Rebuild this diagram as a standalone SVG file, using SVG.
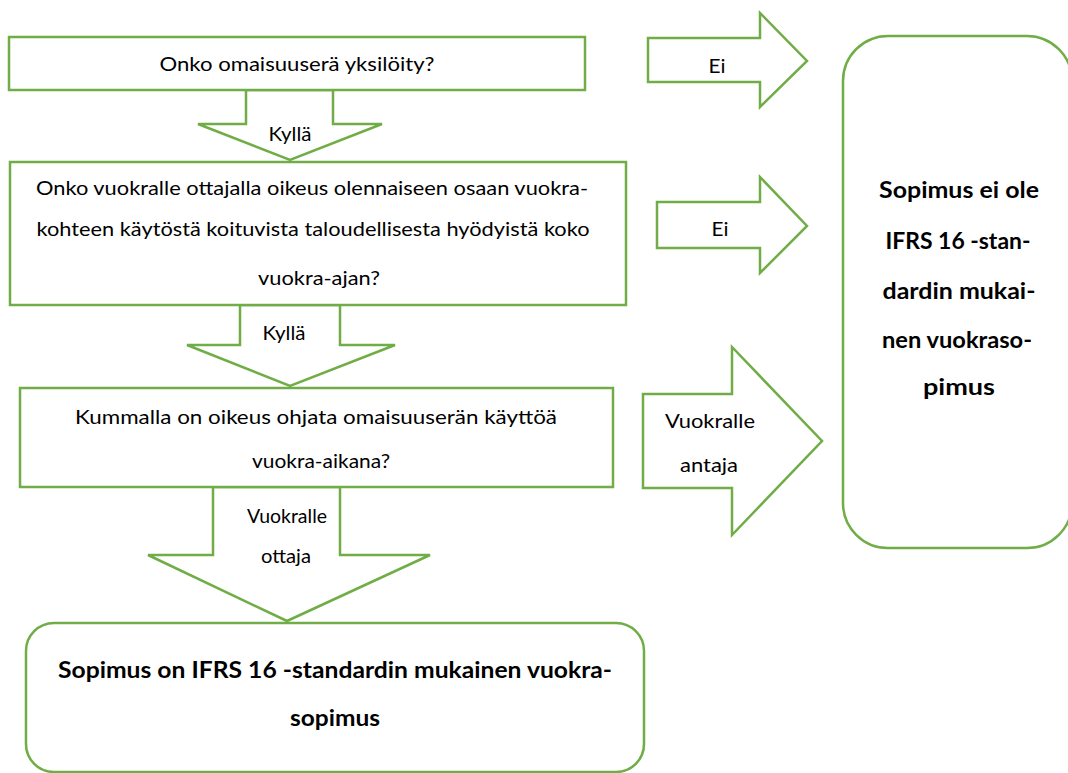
<svg xmlns="http://www.w3.org/2000/svg" width="1068" height="773" viewBox="0 0 1068 773">
<style>
.n{fill:#fff;stroke:#70AD47;stroke-width:2.5}
.a{fill:#fff;stroke:#70AD47;stroke-width:2.5;stroke-linejoin:miter}
.t{font-family:Lato,"Open Sans","Liberation Sans",sans-serif;font-size:20px;fill:#000;text-anchor:middle}
.b{font-weight:bold;font-size:23px}
</style>
<rect width="1068" height="773" fill="#fff"/>
<g id="connectors">
<g id="arrow-kylla-1"><polygon class="a" points="246,90 333,90 333,124 382,124 290,160 198,124 246,124"/><text class="t" x="290" y="141" textLength="43" lengthAdjust="spacingAndGlyphs">Kyllä</text></g>
<g id="arrow-kylla-2"><polygon class="a" points="240,305 340,305 340,345 395,345 290,386 187,345 240,345"/><text class="t" x="284" y="340" textLength="43" lengthAdjust="spacingAndGlyphs">Kyllä</text></g>
<g id="arrow-ottaja"><polygon class="a" points="213,487 340,487 340,555 430,555 287,621 148,555 213,555"/><text class="t" x="287" y="523" textLength="80" lengthAdjust="spacingAndGlyphs">Vuokralle</text><text class="t" x="286" y="563" textLength="50" lengthAdjust="spacingAndGlyphs">ottaja</text></g>
<g id="arrow-ei-1"><polygon class="a" points="648,38 760,38 760,13 807,61 760,107 760,82 648,82"/><text class="t" x="717" y="73" textLength="17" lengthAdjust="spacingAndGlyphs">Ei</text></g>
<g id="arrow-ei-2"><polygon class="a" points="657,202 760,202 760,177 807,226 760,273 760,248 657,248"/><text class="t" x="720" y="236" textLength="17" lengthAdjust="spacingAndGlyphs">Ei</text></g>
<g id="arrow-antaja"><polygon class="a" points="643,394 732,394 732,347 822,441 732,535 732,488 643,488"/><text class="t" x="710" y="428" textLength="90" lengthAdjust="spacingAndGlyphs">Vuokralle</text><text class="t" x="709" y="472" textLength="58" lengthAdjust="spacingAndGlyphs">antaja</text></g>
</g>
<g id="q1"><rect class="n" x="9" y="37" width="576" height="53"/><text class="t" x="297" y="71" textLength="275" lengthAdjust="spacingAndGlyphs">Onko omaisuuserä yksilöity?</text></g>
<g id="q2"><rect class="n" x="10" y="162" width="616" height="143"/>
<text class="t" x="312" y="195" textLength="552" lengthAdjust="spacingAndGlyphs">Onko vuokralle ottajalla oikeus olennaiseen osaan vuokra-</text>
<text class="t" x="313" y="236" textLength="553" lengthAdjust="spacingAndGlyphs">kohteen käytöstä koituvista taloudellisesta hyödyistä koko</text>
<text class="t" x="319" y="285" textLength="122" lengthAdjust="spacingAndGlyphs">vuokra-ajan?</text></g>
<g id="q3"><rect class="n" x="20" y="388" width="593" height="99"/>
<text class="t" x="316" y="424" textLength="482" lengthAdjust="spacingAndGlyphs">Kummalla on oikeus ohjata omaisuuserän käyttöä</text>
<text class="t" x="321" y="468" textLength="138" lengthAdjust="spacingAndGlyphs">vuokra-aikana?</text></g>
<g id="result-yes"><rect class="n" x="26" y="623" width="618" height="149" rx="28"/>
<text class="t b" x="335" y="678" textLength="554" lengthAdjust="spacingAndGlyphs">Sopimus on IFRS 16 -standardin mukainen vuokra-</text>
<text class="t b" x="335" y="726" textLength="90" lengthAdjust="spacingAndGlyphs">sopimus</text></g>
<g id="result-no"><rect class="n" x="843" y="36" width="229" height="512" rx="45"/>
<text class="t b" x="959" y="198" textLength="160" lengthAdjust="spacingAndGlyphs">Sopimus ei ole</text>
<text class="t b" x="958" y="249" textLength="145" lengthAdjust="spacingAndGlyphs">IFRS 16 -stan-</text>
<text class="t b" x="959" y="299" textLength="153" lengthAdjust="spacingAndGlyphs">dardin mukai-</text>
<text class="t b" x="957" y="348" textLength="150" lengthAdjust="spacingAndGlyphs">nen vuokraso-</text>
<text class="t b" x="959" y="395" textLength="72" lengthAdjust="spacingAndGlyphs">pimus</text></g>
</svg>
